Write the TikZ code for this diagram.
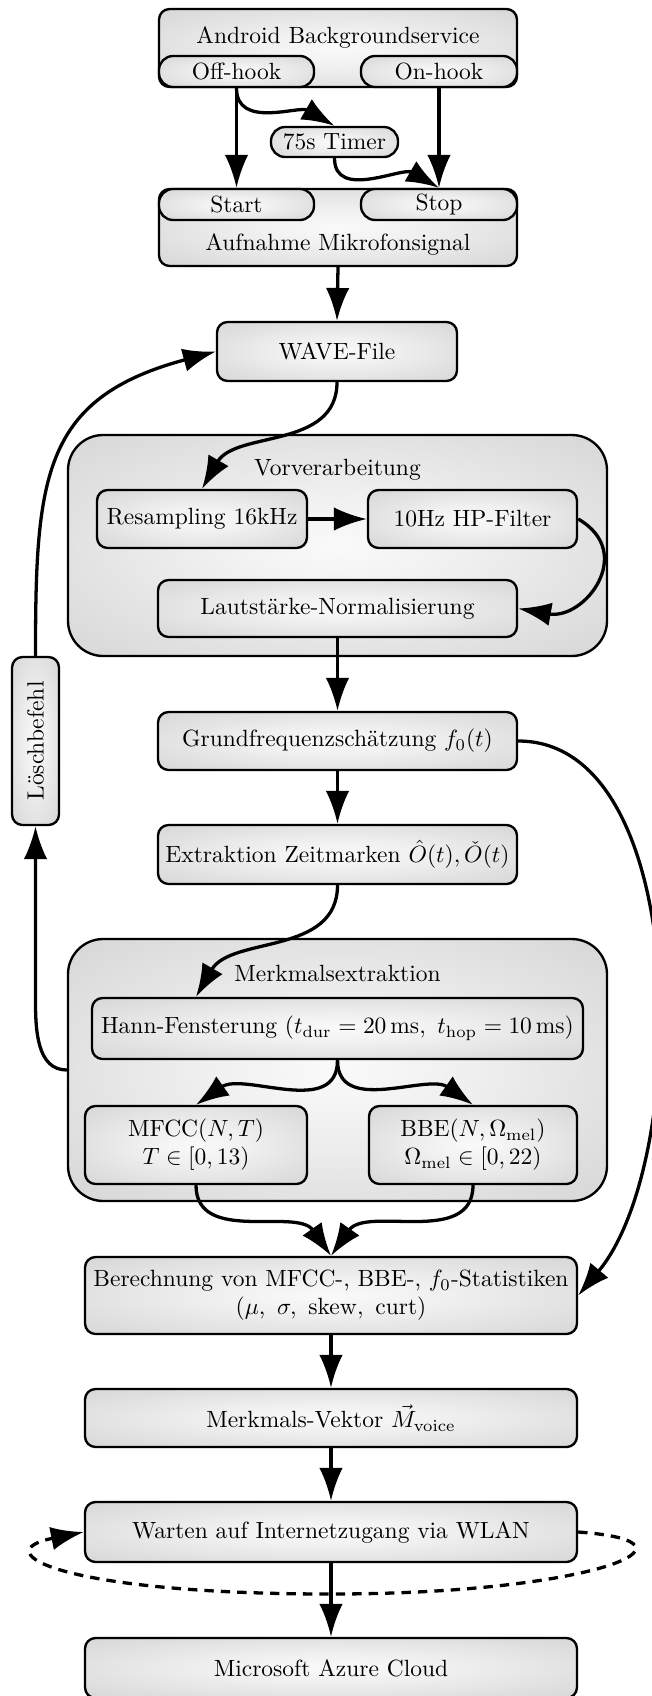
\documentclass[tikz,border=0pt]{standalone}
\usetikzlibrary{arrows.meta,positioning}
\newcommand{\pxs}{0.426pt}
\pgfdeclareradialshading{boxshade}{\pgfpoint{0bp}{0bp}}{color(0bp)=(black!2); color(12bp)=(black!6); color(50bp)=(black!22); color(75bp)=(black!25)}

\begin{document}
\begin{tikzpicture}[x=\pxs,y=\pxs,>={Latex[length=14pt,width=10pt]},
procbox/.style={draw,line width=1pt,rounded corners=4.5pt,shading=boxshade,align=center,inner sep=0pt},
groupbox/.style={draw,line width=1pt,rounded corners=15pt,shading=boxshade},
boxsize/.style 2 args={minimum width=#1*\pxs,minimum height=#2*\pxs},
flow/.style={line width=1.4pt,->}]
\useasboundingbox (0,0) rectangle (651,-1696);

% Aufnahme
\node[procbox,boxsize={358}{78}] (android) at (338,-48) {};
\node[anchor=base] (androidtxt) at (338,-43) {Android Backgroundservice};
\node[procbox,rounded corners=6pt,boxsize={155}{31}] (offhook) at (236.5,-71.5) {Off-hook};
\node[procbox,rounded corners=6pt,boxsize={156}{31}] (onhook) at (439,-71.5) {On-hook};
\node[procbox,rounded corners=6pt,boxsize={127}{30}] (timer) at (334.5,-142) {75s Timer};
\node[procbox,boxsize={358}{77}] (aufnahme) at (338,-227.5) {};
\node[anchor=base] (aufnahmetxt) at (338,-250) {Aufnahme Mikrofonsignal};
\node[procbox,rounded corners=6pt,boxsize={155}{31}] (start) at (236.5,-204.5) {Start};
\node[procbox,rounded corners=6pt,boxsize={156}{31}] (stop) at (439,-204.5) {Stop};
\node[procbox,boxsize={240}{59}] (wave) at (337,-351.5) {WAVE-File};

% Vorverarbeitung
\node[groupbox,boxsize={539}{221}] (vorv) at (337.5,-545.5) {};
\node[anchor=base] (vorvtitle) at (337.5,-475) {Vorverarbeitung};
\node[procbox,boxsize={210}{58}] (resample) at (202,-519) {Resampling 16kHz};
\node[procbox,boxsize={209}{58}] (hpfilter) at (472.5,-519) {10Hz HP-Filter};
\node[procbox,boxsize={359}{57}] (laut) at (337.5,-608.5) {Lautstärke-Normalisierung};

\node[procbox,rotate=90,boxsize={168}{47}] (loesch) at (35.5,-741) {Löschbefehl};
\node[procbox,boxsize={359}{58}] (grund) at (337.5,-741) {Grundfrequenzschätzung $f_0(t)$};
\node[procbox,boxsize={359}{59}] (extr) at (337.5,-854.5) {Extraktion Zeitmarken $\hat{O}(t),\check{O}(t)$};

% Merkmalsextraktion
\node[groupbox,boxsize={539}{262}] (merk) at (337.5,-1070) {};
\node[anchor=base] (merktitle) at (337.5,-981) {Merkmalsextraktion};
\node[procbox,boxsize={491}{61}] (hann) at (337.5,-1028.5) {Hann-Fensterung $(t_\mathrm{dur}=20\,\mathrm{ms},\ t_\mathrm{hop}=10\,\mathrm{ms})$};
\node[procbox,boxsize={222}{78}] (mfcc) at (196,-1145) {MFCC$(N,T)$\\$T\in[0,13)$};
\node[procbox,boxsize={208}{78}] (bbe) at (473,-1145) {BBE$(N,\Omega_\mathrm{mel})$\\$\Omega_\mathrm{mel}\in[0,22)$};

\node[procbox,boxsize={492}{77}] (berech) at (331,-1295.5) {Berechnung von MFCC-, BBE-, $f_0$-Statistiken\\$(\mu,\ \sigma,\ \mathrm{skew},\ \mathrm{curt})$};
\node[procbox,boxsize={492}{58}] (vektor) at (331,-1418) {Merkmals-Vektor $\vec{M}_\mathrm{voice}$};
\node[procbox,boxsize={492}{60}] (warten) at (331,-1532) {Warten auf Internetzugang via WLAN};
\node[procbox,boxsize={492}{60}] (azure) at (331,-1668) {Microsoft Azure Cloud};

\coordinate (wloop) at (331,-1594);
\coordinate (lbend) at (35.5,-1000);

% Verbindungen
\draw[line width=1.4pt,dash pattern=on 4pt off 3pt,->] (warten.east) .. controls +(140,-10) and +(260,0) .. (wloop) .. controls +(-270,0) and +(-100,-20) .. (warten.west);
\draw[flow] (offhook.south) -- (start.north);
\draw[flow] (offhook.south) to[out=-90,in=150] (timer.north);
\draw[flow] (timer.south) to[out=-90,in=150] (stop.north);
\draw[flow] (onhook.south) -- (stop.north);
\draw[flow] (aufnahme.south) -- (wave.north);
\draw[flow] (wave.south) to[out=-90,in=60] (resample.north);
\draw[flow] (resample) -- (hpfilter);
\draw[flow] (hpfilter.east) to[out=-30,in=-10,looseness=1.6] (laut.east);
\draw[flow] (laut.south) -- (grund.north);
\draw[flow] (grund) -- (extr);
\draw[flow] (grund.east) to[out=0,in=50,looseness=0.8] (berech.east);
\draw[flow] (extr.south) to[out=-90,in=60] (mfcc |- hann.north);
\draw[flow] (hann.south) to[out=-90,in=35] (mfcc.north);
\draw[flow] (hann.south) to[out=-90,in=145] (bbe.north);
\draw[flow] (mfcc.south) to[out=-90,in=125] (berech.north);
\draw[flow] (bbe.south) to[out=-90,in=55] (berech.north);
\draw[flow] (berech) -- (vektor);
\draw[flow] (vektor) -- (warten);
\draw[flow] (warten) -- (azure);
\draw[flow] (merk.west) to[out=180,in=-90] (lbend) -- (loesch.west);
\draw[flow] (loesch.east) to[out=90,in=195,looseness=1.3] (wave.west);
\end{tikzpicture}
\end{document}
